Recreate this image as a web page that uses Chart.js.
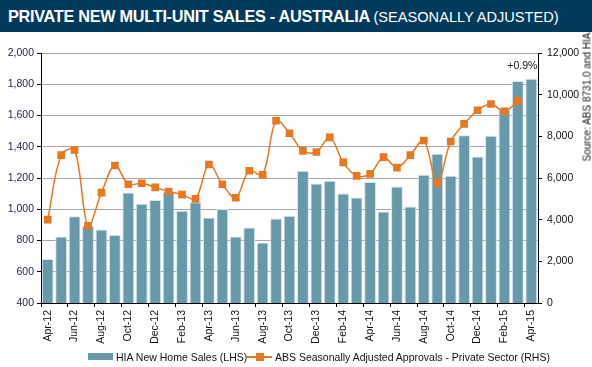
<!DOCTYPE html>
<html>
<head>
<meta charset="utf-8">
<script src="https://cdn.jsdelivr.net/npm/chart.js@4.4.1/dist/chart.umd.min.js"></script>
<style>
  html, body { margin: 0; padding: 0; background: #fff; }
  body { width: 592px; height: 367px; position: relative; overflow: hidden; font-family: "Liberation Sans", Arial, sans-serif; }
  #banner { position: absolute; left: 0; top: 0; width: 592px; height: 32px; background: #023a5b; color: #fff; white-space: nowrap; }
  #banner .t1 { position: absolute; left: 8px; top: 7px; font-weight: bold; font-size: 16.3px; letter-spacing: -0.3px; }
  #banner .t2 { font-weight: normal; font-size: 14.6px; letter-spacing: 0; }
  #wrap { position: absolute; left: 0; top: 0; width: 592px; height: 367px; }
  #source { position: absolute; left: 587px; top: 97px; transform: translate(-50%, -50%) rotate(-90deg); font-size: 10px; color: #111; white-space: nowrap; }
  .leg { position: absolute; font-size: 10.5px; color: #111; white-space: nowrap; line-height: 12px; }
  .sw { position: absolute; }
</style>
</head>
<body>
<div id="wrap"><canvas id="c" width="592" height="367"></canvas></div>
<div id="banner"><div class="t1">PRIVATE NEW MULTI-UNIT SALES - AUSTRALIA <span class="t2">(SEASONALLY ADJUSTED)</span></div></div>
<div id="source">Source: ABS 8731.0 and HIA</div>
<div class="sw" style="left:88px;top:353px;width:25px;height:7px;background:#6899aa;"></div>
<div class="leg" style="left:116px;top:351px;">HIA New Home Sales (LHS)</div>
<div class="sw" style="left:247px;top:356px;width:25px;height:1.5px;background:#e87722;"></div>
<div class="sw" style="left:256px;top:353px;width:8px;height:8px;background:#e87722;"></div>
<div class="leg" style="left:275px;top:351px;">ABS Seasonally Adjusted Approvals - Private Sector (RHS)</div>
<script>
const months = ['Apr-12','May-12','Jun-12','Jul-12','Aug-12','Sep-12','Oct-12','Nov-12','Dec-12','Jan-13','Feb-13','Mar-13',
  'Apr-13','May-13','Jun-13','Jul-13','Aug-13','Sep-13','Oct-13','Nov-13','Dec-13','Jan-14','Feb-14','Mar-14',
  'Apr-14','May-14','Jun-14','Jul-14','Aug-14','Sep-14','Oct-14','Nov-14','Dec-14','Jan-15','Feb-15','Mar-15','Apr-15'];
const hiaSales = [682, 826, 956, 895, 870, 835, 1108, 1036, 1059, 1112, 991, 1045,
  948, 1002, 826, 884, 788, 941, 959, 1247, 1165, 1183, 1101, 1076,
  1174, 986, 1146, 1018, 1221, 1356, 1215, 1473, 1338, 1471, 1637, 1821, 1836];
const absApprovals = [4000, 7100, 7350, 3700, 5300, 6600, 5700, 5750, 5550, 5350, 5200, 5000,
  6650, 5700, 5050, 6350, 6150, 8750, 8150, 7300, 7250, 7950, 6750, 6100,
  6200, 7000, 6500, 7100, 7800, 5750, 7750, 8600, 9250, 9550, 9200, 9700, null];
const lastChange = '+0.9%';

const tickFont = { family: '"Liberation Sans", Arial, sans-serif', size: 10.5 };

const annotate = {
  id: 'annotate',
  afterDatasetsDraw(chart) {
    const meta = chart.getDatasetMeta(1);
    const bar = meta.data[meta.data.length - 1];
    const ctx = chart.ctx;
    ctx.save();
    ctx.font = '10.5px "Liberation Sans", Arial, sans-serif';
    ctx.fillStyle = '#111';
    ctx.textAlign = 'center';
    ctx.textBaseline = 'middle';
    ctx.fillText(lastChange, bar.x - 9, 66);
    ctx.restore();
  }
};

new Chart(document.getElementById('c'), {
  data: {
    labels: months,
    datasets: [
      {
        type: 'line', label: 'ABS Seasonally Adjusted Approvals - Private Sector (RHS)',
        data: absApprovals, yAxisID: 'y1', order: 0,
        borderColor: '#e87722', backgroundColor: '#e87722', borderWidth: 1.5,
        tension: 0.35, pointStyle: 'rect', pointRadius: 5.4, pointBorderWidth: 0,
        pointBackgroundColor: '#e87722', spanGaps: false
      },
      {
        type: 'bar', label: 'HIA New Home Sales (LHS)',
        data: hiaSales, yAxisID: 'y', order: 1,
        backgroundColor: '#6899aa', borderColor: '#d3e3e9', borderWidth: 1,
        barPercentage: 0.88, categoryPercentage: 1.0
      }
    ]
  },
  options: {
    responsive: false, animation: false, devicePixelRatio: 1,
    layout: { padding: { top: 53, left: 0, right: 0, bottom: 0 } },
    plugins: { legend: { display: false }, tooltip: { enabled: false } },
    scales: {
      x: {
        offset: true,
        grid: { display: true, drawOnChartArea: false, tickLength: 4,
          tickColor: (c) => (c.index % 2 === 0 ? '#000' : 'rgba(0,0,0,0)') },
        border: { color: '#000', width: 1 },
        ticks: { autoSkip: false, minRotation: 90, maxRotation: 90, padding: 3, color: '#111', font: tickFont,
          callback: (v, i) => (i % 2 === 0 ? months[i] : '') },
        afterFit: (s) => { s.height = 64; }
      },
      y: {
        position: 'left', min: 400, max: 2000,
        ticks: { stepSize: 200, color: '#262650', font: tickFont, padding: 3 },
        grid: { color: '#a6a6a6', lineWidth: 1, tickLength: 4, tickColor: '#000' },
        border: { color: '#000', width: 1 },
        afterFit: (s) => { s.width = 41; }
      },
      y1: {
        position: 'right', min: 0, max: 12000,
        ticks: { stepSize: 2000, color: '#111', font: tickFont, padding: 5 },
        grid: { drawOnChartArea: false, tickLength: 4, tickColor: '#000' },
        border: { color: '#000', width: 1 },
        afterFit: (s) => { s.width = 54; }
      }
    }
  },
  plugins: [annotate]
});
</script>
</body>
</html>
